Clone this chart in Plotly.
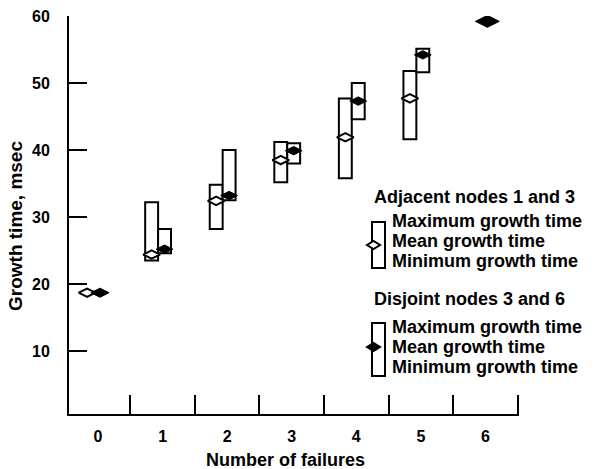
import plotly.graph_objects as go

# ---- data ----
categories = [0, 1, 2, 3, 4, 5, 6]
tick_labels = ["0", "1", "2", "3", "4", "5", "6"]

adj_cats = [0, 1, 2, 3, 4, 5]
adj_max = [18.7, 32.2, 34.8, 41.2, 47.7, 51.8]
adj_mean = [18.7, 24.4, 32.4, 38.5, 41.9, 47.7]
adj_min = [18.7, 23.5, 28.2, 35.2, 35.8, 41.6]

dis_cats = [0, 1, 2, 3, 4, 5, 6]
dis_max = [18.7, 28.2, 40.0, 41.0, 50.0, 55.1, 59.2]
dis_mean = [18.7, 25.2, 33.2, 39.9, 47.3, 54.2, 59.2]
dis_min = [18.7, 24.6, 32.5, 38.0, 44.6, 51.6, 59.2]

y_ticks = [10, 20, 30, 40, 50, 60]

x_title = "Number of failures"
y_title = "Growth time, msec"

# ---- style / layout constants ----
W_FIG, H_FIG = 594, 469
L, R, T, B = 69, 519, 16, 414
BOX_W = 0.2
ADJ_OFF = -0.27
DIS_OFF = -0.07
FONT = "Liberation Sans, Arial, sans-serif"

def px(x):
    return (x - L) / (R - L)

def py(y):
    return (B - y) / (B - T)

fig = go.Figure()

box_line = dict(color="black", width=2)

fig.add_trace(go.Bar(
    x=adj_cats, base=adj_min,
    y=[mx - mn for mx, mn in zip(adj_max, adj_min)],
    width=BOX_W, offset=ADJ_OFF,
    marker=dict(color="white", line=box_line),
    hoverinfo="skip"))
fig.add_trace(go.Bar(
    x=dis_cats, base=dis_min,
    y=[mx - mn for mx, mn in zip(dis_max, dis_min)],
    width=BOX_W, offset=DIS_OFF,
    marker=dict(color="white", line=box_line),
    hoverinfo="skip"))

fig.add_trace(go.Scatter(
    x=[c + ADJ_OFF + BOX_W / 2 for c in adj_cats], y=adj_mean,
    mode="markers",
    marker=dict(symbol="diamond-wide", size=12, color="white", opacity=1,
                line=dict(color="black", width=2))))
fig.add_trace(go.Scatter(
    x=[c + DIS_OFF + BOX_W / 2 for c in dis_cats], y=dis_mean,
    mode="markers",
    marker=dict(symbol="diamond-wide", opacity=1,
                size=[13, 12, 12, 12, 12, 12, 17], color="black",
                line=dict(color="black", width=1))))

fig.update_layout(
    width=W_FIG, height=H_FIG,
    margin=dict(l=L, r=W_FIG - R, t=T, b=H_FIG - B),
    plot_bgcolor="white", paper_bgcolor="white",
    showlegend=False, barmode="overlay",
    font=dict(family=FONT, color="black"),
)

fig.update_xaxes(
    range=[-0.45, 6.52], automargin=False,
    tickvals=categories, ticktext=[f"<b>{t}</b>" for t in tick_labels], ticks="",
    tickfont=dict(size=16),
    ticklabelstandoff=7,
    minor=dict(tickvals=[0.5, 1.5, 2.5, 3.5, 4.5, 5.5, 6.5],
               ticks="inside", ticklen=19, tickwidth=2, tickcolor="black"),
    showline=True, linecolor="black", linewidth=2,
    showgrid=False, zeroline=False,
)
fig.update_yaxes(
    range=[0.6, 60], automargin=False,
    tickvals=y_ticks, ticktext=[f"<b>{v}</b>" for v in y_ticks],
    ticks="inside", ticklen=18, tickwidth=2,
    tickcolor="black",
    tickfont=dict(size=16),
    ticklabelstandoff=14,
    showline=True, linecolor="black", linewidth=2,
    showgrid=False, zeroline=False,
)

# axis titles
fig.add_annotation(text=f"<b>{x_title}</b>", xref="paper", yref="paper",
                   x=px(285), y=py(460), xanchor="center", yanchor="middle",
                   showarrow=False, font=dict(size=18, family=FONT))
fig.add_annotation(text=f"<b>{y_title}</b>", xref="paper", yref="paper",
                   x=px(16), y=py(226), xanchor="center", yanchor="middle",
                   textangle=-90, showarrow=False,
                   font=dict(size=19, family=FONT))

# ---- custom legend ----
legend_rows = [
    ("Adjacent nodes 1 and 3", 373, 197),
    ("Maximum growth time", 391, 221),
    ("Mean growth time", 391, 241),
    ("Minimum growth time", 391, 261),
    ("Disjoint nodes 3 and 6", 373, 299),
    ("Maximum growth time", 391, 327),
    ("Mean growth time", 391, 347),
    ("Minimum growth time", 391, 367),
]
for text, x, y in legend_rows:
    fig.add_annotation(text=f"<b>{text}</b>", xref="paper", yref="paper",
                       x=px(x), y=py(y), xanchor="left", yanchor="middle",
                       showarrow=False, borderpad=0,
                       font=dict(size=18, family=FONT))

# legend icons
for (top, bot, mid, fill) in [(222, 268, 245, "white"), (323, 376, 347, "black")]:
    fig.add_shape(type="rect", xref="paper", yref="paper",
                  x0=px(372), x1=px(385), y0=py(bot), y1=py(top),
                  line=dict(color="black", width=2), fillcolor="white")
    fig.add_shape(type="path", xref="paper", yref="paper",
                  path=(f"M {px(367)},{py(mid)} L {px(373.5)},{py(mid - 4)} "
                        f"L {px(380)},{py(mid)} L {px(373.5)},{py(mid + 4)} Z"),
                  line=dict(color="black", width=2), fillcolor=fill)

fig.write_html("out.html")
